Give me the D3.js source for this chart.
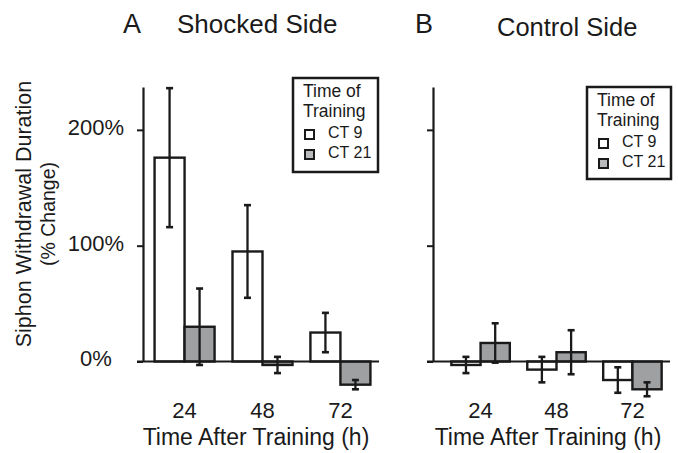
<!DOCTYPE html>
<html>
<head>
<meta charset="utf-8">
<script src="https://cdn.jsdelivr.net/npm/d3@7"></script>
<style>
  body { margin: 0; background: #fff; }
  text { font-family: "Liberation Sans", Arial, Helvetica, sans-serif; fill: #1a1a1a; }
</style>
</head>
<body>
<div id="chart"></div>
<script>
// values, % change
var times = ["24", "48", "72"];
var seriesNames = ["CT 9", "CT 21"];

var shockedCT9 = [176, 95, 25];
var shockedCT9Err = [60, 40, 17];
var shockedCT21 = [30, -3, -20];
var shockedCT21Err = [33, 7, 4];

var controlCT9 = [-3, -7, -16];
var controlCT9Err = [7, 11, 11];
var controlCT21 = [16, 8, -24];
var controlCT21Err = [17, 19, 6];

var yTicks = [0, 100, 200];

var width = 678, height = 453;
var ink = "#1a1a1a";
var barGray = "#9fa0a2";
var swatchGray = "#b9babc";

var svg = d3.select("#chart").append("svg")
  .attr("width", width)
  .attr("height", height);

var y = d3.scaleLinear()
  .domain([0, 237])
  .range([361.5, 87]);

var panels = [
  {
    letter: "A", title: "Shocked Side", axisX: 143, range: [146, 379],
    letterX: 123, titleX: 177, titleY: 33, titleSize: 26, xTitleX: 256,
    legend: { x: 293, y: 78, w: 85, h: 94 },
    showLabels: true,
    cols: [
      { vals: shockedCT9, errs: shockedCT9Err },
      { vals: shockedCT21, errs: shockedCT21Err }
    ]
  },
  {
    letter: "B", title: "Control Side", axisX: 433, range: [443, 670],
    letterX: 415, titleX: 497, titleY: 36, titleSize: 25.5, xTitleX: 548,
    legend: { x: 587, y: 87, w: 84, h: 92 },
    showLabels: false,
    cols: [
      { vals: controlCT9, errs: controlCT9Err },
      { vals: controlCT21, errs: controlCT21Err }
    ]
  }
];

panels.forEach(function(p) {
  var g = svg.append("g");

  var x0 = d3.scaleBand()
    .domain(times)
    .range(p.range)
    .paddingInner(0.23)
    .paddingOuter(0.11);

  var x1 = d3.scaleBand()
    .domain(seriesNames)
    .range([0, x0.bandwidth()]);

  // panel heading
  g.append("text")
    .attr("x", p.letterX)
    .attr("y", 33)
    .attr("font-size", 27)
    .text(p.letter);
  g.append("text")
    .attr("x", p.titleX)
    .attr("y", p.titleY)
    .attr("font-size", p.titleSize)
    .text(p.title);

  // bars
  var rows = [];
  times.forEach(function(t, i) {
    p.cols.forEach(function(c, j) {
      rows.push({ time: t, series: seriesNames[j], v: c.vals[i], e: c.errs[i] });
    });
  });

  g.append("g")
    .selectAll("rect")
    .data(rows)
    .enter().append("rect")
    .attr("x", function(d) { return x0(d.time) + x1(d.series); })
    .attr("y", function(d) { return y(Math.max(0, d.v)); })
    .attr("width", x1.bandwidth())
    .attr("height", function(d) { return Math.abs(y(d.v) - y(0)); })
    .attr("fill", function(d) { return d.series === "CT 9" ? "#fff" : barGray; })
    .attr("stroke", ink)
    .attr("stroke-width", 2.4);

  // baseline
  g.append("line")
    .attr("x1", p.axisX - 6)
    .attr("x2", p.range[1])
    .attr("y1", y(0))
    .attr("y2", y(0))
    .attr("stroke", ink)
    .attr("stroke-width", 2.2);

  // error bars
  var eb = g.append("g")
    .attr("stroke", ink)
    .attr("stroke-width", 2.3)
    .selectAll("g")
    .data(rows)
    .enter().append("g")
    .attr("transform", function(d) {
      return "translate(" + (x0(d.time) + x1(d.series) + x1.bandwidth() / 2) + ",0)";
    });
  eb.append("line")
    .attr("y1", function(d) { return y(d.v + d.e); })
    .attr("y2", function(d) { return y(d.v - d.e); });
  eb.append("line")
    .attr("x1", -3.5).attr("x2", 3.5)
    .attr("stroke-width", 2.6)
    .attr("y1", function(d) { return y(d.v + d.e); })
    .attr("y2", function(d) { return y(d.v + d.e); });
  eb.append("line")
    .attr("x1", -3.5).attr("x2", 3.5)
    .attr("stroke-width", 2.6)
    .attr("y1", function(d) { return y(d.v - d.e); })
    .attr("y2", function(d) { return y(d.v - d.e); });

  // y axis
  var yAxis = g.append("g")
    .attr("transform", "translate(" + p.axisX + ",0)")
    .call(d3.axisLeft(y)
      .tickValues(yTicks)
      .tickSize(6)
      .tickSizeOuter(0)
      .tickFormat(function(d) { return p.showLabels ? d + "%" : ""; }));
  yAxis.select(".domain").attr("stroke", ink).attr("stroke-width", 2.2);
  yAxis.selectAll(".tick line").attr("stroke", ink).attr("stroke-width", 2);
  yAxis.selectAll(".tick text")
    .attr("x", -47)
    .attr("dy", "0.2em")
    .attr("text-anchor", "middle")
    .attr("font-size", 22)
    .attr("font-family", null)
    .attr("fill", ink);

  // x tick labels, no axis line
  var xAxis = g.append("g")
    .attr("transform", "translate(0," + y(0) + ")")
    .call(d3.axisBottom(x0).tickSize(0).tickPadding(0));
  xAxis.select(".domain").remove();
  xAxis.selectAll(".tick text")
    .attr("y", 418 - y(0))
    .attr("dy", null)
    .attr("font-size", 22)
    .attr("font-family", null)
    .attr("fill", ink);

  g.append("text")
    .attr("x", p.xTitleX)
    .attr("y", 445)
    .attr("text-anchor", "middle")
    .attr("font-size", 23)
    .text("Time After Training (h)");

  // legend
  var L = p.legend;
  var lg = g.append("g").attr("transform", "translate(" + L.x + "," + L.y + ")");
  lg.append("rect")
    .attr("width", L.w).attr("height", L.h)
    .attr("fill", "#fff")
    .attr("stroke", ink)
    .attr("stroke-width", 2.5);
  lg.append("text").attr("x", 10).attr("y", 19).attr("font-size", 17.5).text("Time of");
  lg.append("text").attr("x", 10).attr("y", 39).attr("font-size", 17.5).text("Training");
  var items = lg.selectAll(".item")
    .data(seriesNames)
    .enter().append("g")
    .attr("class", "item")
    .attr("transform", function(d, i) { return "translate(12," + (52 + i * 20) + ")"; });
  items.append("rect")
    .attr("width", 9).attr("height", 9)
    .attr("fill", function(d) { return d === "CT 9" ? "#fff" : swatchGray; })
    .attr("stroke", ink)
    .attr("stroke-width", 2);
  items.append("text")
    .attr("x", 23).attr("y", 8)
    .attr("font-size", 16)
    .text(function(d) { return d; });
});

// shared y label
var yl = svg.append("g").attr("transform", "translate(31,214) rotate(-90)");
yl.append("text")
  .attr("text-anchor", "middle")
  .attr("font-size", 21.5)
  .text("Siphon Withdrawal Duration");
yl.append("text")
  .attr("y", 24)
  .attr("text-anchor", "middle")
  .attr("font-size", 19.5)
  .text("(% Change)");
</script>
</body>
</html>
